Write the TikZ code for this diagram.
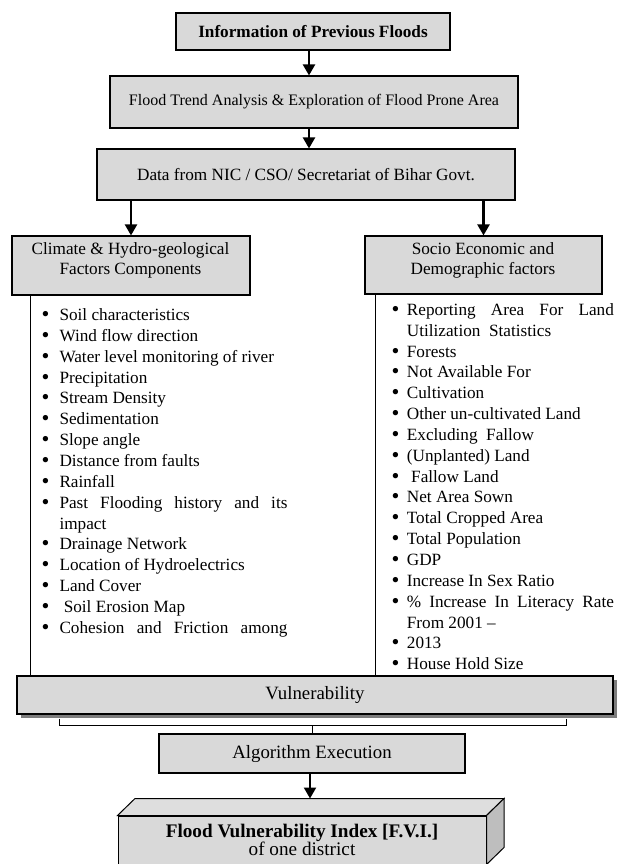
\documentclass[tikz,border=0pt]{standalone}
\usepackage{graphicx}
\usepackage{fontspec}
\setmainfont{Liberation Serif}
\usetikzlibrary{arrows.meta,calc,shadows}
\definecolor{boxgray}{RGB}{217,217,217}
\definecolor{topgray}{RGB}{222,222,222}
\definecolor{sidegray}{RGB}{190,190,190}
\definecolor{shadowgray}{RGB}{125,125,125}
\newcommand\bigdot{\raisebox{-1.0pt}{\scalebox{1.3}{\textbullet}}}
\newcommand\bl{\strut\makebox[17.3pt][l]{\hspace{-0.5pt}\bigdot}}
\newcommand\br{\strut\makebox[14.7pt][l]{\hspace{-0.5pt}\bigdot}}
\begin{document}
\begin{tikzpicture}[x=1pt,y=-1pt,
  box/.style={draw=black, line width=1.1pt, fill=boxgray, inner sep=0pt, align=center,
    font=\fontsize{17.2}{20.8}\selectfont},
  txt/.style={inner sep=0pt, align=center, font=\fontsize{17.2}{20}\selectfont},
  lst/.style={anchor=north west, inner sep=0pt, align=left, font=\fontsize{17.2}{20.85}\selectfont},
  arr/.style={line width=2.2pt, -{Triangle[width=12pt,length=11pt]}},
  vline/.style={line width=1pt}]
\useasboundingbox (0,0) rectangle (628,864);

% top chain
\node[box, minimum width=274pt, minimum height=37pt,
      font=\bfseries\fontsize{17.2}{20.8}\selectfont] (info) at (313,31.5) {Information of Previous Floods};
\node[box, minimum width=408pt, minimum height=52pt,
      font=\fontsize{16}{18}\selectfont] (trend) at (314,102)
  {Flood Trend Analysis \& Exploration of Flood Prone Area};
\node[box, minimum width=418pt, minimum height=51pt] (data) at (306,174.5)
  {Data from NIC / CSO/ Secretariat of Bihar Govt.};

\coordinate (ax) at (309,0);
\draw[arr] (info.south -| ax) -- (trend.north -| ax);
\draw[arr] (trend.south -| ax) -- (data.north -| ax);

% two factor boxes
\node[box, minimum width=238pt, minimum height=59pt] (clim) at (131,265.5) {};
\node[txt] (climt) at (130.5,260.5) {Climate \& Hydro-geological\\Factors Components};
\node[box, minimum width=237pt, minimum height=58pt] (socio) at (483.5,265) {};
\node[txt] (sociot) at (483,260) {Socio Economic and\\Demographic factors};

\draw[arr] (data.south -| clim.north) -- (clim.north);
\draw[arr] (data.south -| socio.north) -- (socio.north);

% lists
\node[lst] (llist) at (42,305.7) {%
\bl Soil characteristics\\
\bl Wind flow direction\\
\bl Water level monitoring of river\\
\bl Precipitation\\
\bl Stream Density\\
\bl Sedimentation\\
\bl Slope angle\\
\bl Distance from faults\\
\bl Rainfall\\
\bl\makebox[228pt][s]{Past Flooding history and its}\\
\strut\hspace*{17.3pt}impact\\
\bl Drainage Network\\
\bl Location of Hydroelectrics\\
\bl Land Cover\\
\bl\ Soil Erosion Map\\
\bl\makebox[228pt][s]{Cohesion and Friction among}};

\node[lst] (rlist) at (392,300.5) {%
\br\makebox[207pt][s]{Reporting Area For Land}\\
\strut\hspace*{14.7pt}Utilization\ \ Statistics\\
\br Forests\\
\br Not Available For\\
\br Cultivation\\
\br Other un-cultivated Land\\
\br Excluding\ \ Fallow\\
\br (Unplanted) Land\\
\br\ Fallow Land\\
\br Net Area Sown\\
\br Total Cropped Area\\
\br Total Population\\
\br GDP\\
\br Increase In Sex Ratio\\
\br\makebox[207pt][s]{\% Increase In Literacy Rate}\\
\strut\hspace*{14.7pt}From 2001 --\\
\br 2013\\
\br House Hold Size};

% vulnerability
\node[box, minimum width=596pt, minimum height=38pt,
      font=\fontsize{18.8}{22}\selectfont,
      drop shadow={shadow xshift=4pt, shadow yshift=-4pt, fill=shadowgray, opacity=1}]
      (vul) at (315,695) {Vulnerability};

\coordinate (lx) at (30,0);
\coordinate (rx) at (375,0);
\draw[vline] (clim.south -| lx) -- (vul.north -| lx);
\draw[vline] (socio.south -| rx) -- (vul.north -| rx);

% algorithm
\node[box, minimum width=306pt, minimum height=39pt,
      font=\fontsize{18.8}{22}\selectfont] (alg) at (312,753.5) {Algorithm Execution};

\coordinate (bl) at (59,725);
\coordinate (br) at (566,725);
\draw[vline] ([yshift=-4pt]vul.south -| bl) -- (bl) -- (br) -- ([yshift=-4pt]vul.south -| br);
\draw[vline] (bl -| alg.north) -- (alg.north);

% FVI cuboid
\node[draw=black, line width=1pt, fill=boxgray, inner sep=0pt, align=center,
      minimum width=368pt, minimum height=48pt,
      font=\fontsize{19.2}{18.5}\selectfont] (fvi) at (302,840)
  {\textbf{Flood Vulnerability Index [F.V.I.]}\\of one district};
\draw[line width=1pt, fill=topgray] (fvi.north west) -- ++(17.5,-17)
  -- ($(fvi.north east)+(17.5,-17)$) -- (fvi.north east) -- cycle;
\draw[line width=1pt, fill=sidegray] (fvi.north east) -- ++(17.5,-17)
  -- ($(fvi.south east)+(17.5,-17)$) -- (fvi.south east) -- cycle;
\coordinate (fvitop) at ($(fvi.north)+(0,-17)$);
\coordinate (ax2) at (310,0);
\draw[arr] (alg.south -| ax2) -- (fvitop -| ax2);
\end{tikzpicture}
\end{document}
